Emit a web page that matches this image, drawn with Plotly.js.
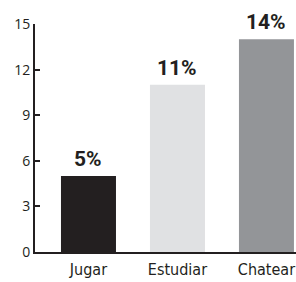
<!DOCTYPE html>
<html>
<head>
<meta charset="utf-8">
<script src="https://cdn.plot.ly/plotly-3.0.1.min.js"></script>
<style>html,body{margin:0;padding:0;background:#fff;}#chart{width:296px;height:282px;}</style>
</head>
<body>
<div id="chart"></div>
<script>
var categories = ["Jugar", "Estudiar", "Chatear"];
var values = [5, 11, 14];
var valueLabels = ["5%", "11%", "14%"];
var barColors = ["#231f20", "#e0e1e3", "#939598"];
var yTicks = [0, 3, 6, 9, 12, 15];

var trace = {
  type: "bar",
  x: categories,
  y: values,
  marker: {color: barColors, line: {width: 0}},
  width: 0.618,
  hoverinfo: "none"
};

var annotations = categories.map(function (c, i) {
  return {
    x: c, y: values[i], xref: "x", yref: "y",
    text: "<b>" + valueLabels[i] + "</b>",
    showarrow: false, yanchor: "bottom", xanchor: "center", yshift: 3,
    font: {family: "Roboto, 'DejaVu Sans', sans-serif", size: 21, color: "#231f20"}
  };
});

var layout = {
  width: 296, height: 282,
  margin: {l: 35, r: 0, t: 24, b: 30, pad: 0},
  paper_bgcolor: "#fff", plot_bgcolor: "#fff",
  showlegend: false,
  xaxis: {
    type: "category",
    range: [-0.601, 2.332],
    showline: true, linecolor: "#231f20", linewidth: 2,
    ticks: "", showgrid: false, zeroline: false,
    tickfont: {family: "'DejaVu Sans Condensed', sans-serif", size: 16, color: "#231f20"},
    ticklabelstandoff: 2,
    fixedrange: true
  },
  yaxis: {
    range: [0, 15],
    tickvals: yTicks,
    ticktext: yTicks.map(String),
    showline: true, linecolor: "#231f20", linewidth: 2,
    ticks: "inside", ticklen: 5, tickwidth: 2, tickcolor: "#231f20",
    showgrid: false, zeroline: false,
    tickfont: {family: "'Open Sans', sans-serif", size: 14, color: "#231f20"},
    fixedrange: true
  },
  annotations: annotations
};

Plotly.newPlot("chart", [trace], layout, {displayModeBar: false, staticPlot: true});
</script>
</body>
</html>
